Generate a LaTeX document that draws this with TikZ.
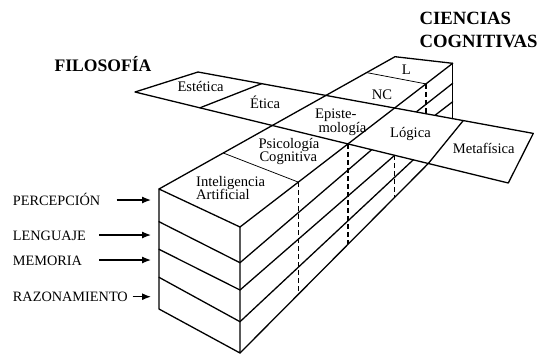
\documentclass[tikz,border=0pt]{standalone}
\usepackage{fontspec}
\setmainfont{Liberation Serif}
\usetikzlibrary{arrows.meta}
\begin{document}
\begin{tikzpicture}[x=1pt,y=-1pt,
  edge/.style={line width=1.3pt, line join=round, line cap=round},
  thinedge/.style={line width=0.75pt},
  hidden/.style={line width=1.2pt, dash pattern=on 5pt off 3pt},
  cell/.style={inner sep=0pt, anchor=base west, font=\fontsize{14.6}{16}\selectfont},
  side/.style={inner sep=0pt, anchor=base west, font=\fontsize{14.3}{16}\selectfont},
  title/.style={inner sep=0pt, anchor=base west, font=\bfseries\fontsize{18.7}{20}\selectfont},
  feed/.style={line width=1.2pt, -{Latex[length=9pt,width=7pt]}}
]
\useasboundingbox (0,0) rectangle (546,354);

% ---- cognitive-science block: front face corners ----
\coordinate (A0) at (159,189);
\coordinate (A1) at (159,221.7);
\coordinate (A2) at (159,249.3);
\coordinate (A3) at (159,277.3);
\coordinate (A4) at (159,309);
\coordinate (B0) at (240,227);
\coordinate (B1) at (240,262.7);
\coordinate (B2) at (240,290);
\coordinate (B3) at (240,321.7);
\coordinate (B4) at (240,353);
% back top corners
\coordinate (K) at (395,56.7);
\coordinate (M) at (452.7,63.3);
\coordinate (Mb) at (452.7,118.6);

% ---- philosophy slab ----
\coordinate (S1) at (135,92);
\coordinate (S2) at (198,72);
\coordinate (S3) at (533.3,133.4);
\coordinate (S4) at (508.3,183);
\coordinate (E1) at (261.7,83.6);
\coordinate (E2) at (200,107.8);
\coordinate (G1) at (463.3,120.5);
\coordinate (G2) at (428.3,163.5);

% front face of the block
\draw[edge] (A0) -- (A4) -- (B4) -- (B0) -- cycle;
\draw[edge] (A1) -- (B1) (A2) -- (B2) (A3) -- (B3);

% top edges of the block
\draw[edge] (A0) -- (K) -- (M) -- (B0);
\draw[edge] (M) -- (Mb);
\draw[thinedge] (223.3,153) -- (298.3,182.1);
\draw[thinedge] (366.7,72.6) -- (426,83.9);

% side face layers, in front of the slab
\draw[edge] (B1) -- (371.7,149.7);
\draw[edge] (B2) -- (394.7,155.3);
\draw[edge] (B3) -- (413.3,159.8);
\draw[edge] (B4) -- (G2);
% side face layers, behind the slab
\draw[edge] (416.7,111.6) -- (452.7,83.3);
\draw[edge] (435,115.3) -- (452.7,101.7);

% hidden cell boundaries on the side face
\draw[hidden] (298.3,182.1) -- (298.3,294.3);
\draw[hidden] (347.9,144) -- (347.9,244.4);
\draw[hidden] (394.7,155.3) -- (394.7,197.3);
\draw[hidden] (426,83.9) -- (426,113.7);

% slab outline and its dividers
\draw[edge] (S1) -- (S2) -- (S3) -- (S4) -- cycle;
\draw[edge] (E1) -- (E2);
\draw[edge] (G1) -- (G2);

% ---- titles ----
\node[title, font=\bfseries\fontsize{17.6}{20}\selectfont] (filo) at (54.3,71) {FILOSOFÍA};
\node[title] (cc1) at (419.3,24) {CIENCIAS};
\node[title] (cc2) at (419.3,47) {COGNITIVAS};

% ---- cell labels ----
\node[cell] (est) at (177.3,91.7) {Estética};
\node[cell] (eti) at (250,108.3) {Ética};
\node[cell] (epi1) at (315,118.6) {Episte-};
\node[cell] (epi2) at (318.3,132) {mología};
\node[cell] (psi1) at (258.3,148) {Psicología};
\node[cell] (psi2) at (259.3,161.3) {Cognitiva};
\node[cell] (ia1) at (196,186.3) {Inteligencia};
\node[cell] (ia2) at (196,199.6) {Artificial};
\node[cell] (nc) at (371.7,99.6) {NC};
\node[cell] (l) at (401.7,74.6) {L};
\node[cell] (log) at (390,137) {Lógica};
\node[cell] (met) at (452.7,153) {Metafísica};

% ---- processes fed into the block ----
\node[side] (per) at (12.7,205) {PERCEPCIÓN};
\node[side] (len) at (12.7,240) {LENGUAJE};
\node[side] (mem) at (12.7,265) {MEMORIA};
\node[side] (raz) at (12.7,301.5) {RAZONAMIENTO};
\coordinate (perS) at (116.7,200);
\coordinate (perE) at (151,200);
\coordinate (lenS) at (99.3,235);
\coordinate (lenE) at (151,235);
\coordinate (memS) at (99.3,260);
\coordinate (memE) at (151,260);
\coordinate (razS) at (132.7,296.7);
\coordinate (razE) at (151,296.7);
\draw[feed] (perS) -- (perE);
\draw[feed] (lenS) -- (lenE);
\draw[feed] (memS) -- (memE);
\draw[feed] (razS) -- (razE);
\end{tikzpicture}
\end{document}
